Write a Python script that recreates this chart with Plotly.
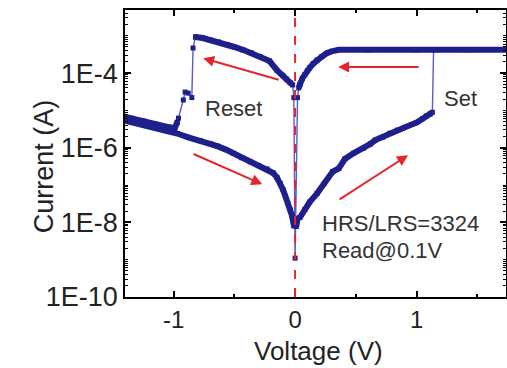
import plotly.graph_objects as go

# ---------------- data ----------------
# HRS, positive sweep 0 -> set
hrs_pos_v = [0.01, 0.02, 0.04, 0.08, 0.12, 0.18, 0.24, 0.31, 0.36, 0.41, 0.48, 0.56,
             0.62, 0.66, 0.72, 0.78, 0.84, 0.90, 0.96, 1.00, 1.05, 1.08, 1.11, 1.13]
hrs_pos_i = [7.9e-9, 1.26e-8, 1.35e-8, 2.2e-8, 3.5e-8, 5.9e-8, 1.1e-7, 2.3e-7, 2.8e-7, 5.0e-7,
             7.1e-7, 9.5e-7, 1.26e-6, 1.6e-6, 1.9e-6, 2.45e-6, 2.95e-6, 3.5e-6, 4.2e-6, 4.7e-6,
             6.0e-6, 7.1e-6, 7.9e-6, 8.9e-6]

# LRS, compliance and return to 0
lrs_pos_v = [1.14, 1.45, 1.80, 1.40, 1.00, 0.60, 0.36, 0.30, 0.26, 0.22, 0.18, 0.15,
             0.12, 0.10, 0.08, 0.06, 0.04, 0.03]
lrs_pos_i = [4.2e-4, 4.2e-4, 4.2e-4, 4.2e-4, 4.2e-4, 4.2e-4, 4.2e-4, 3.8e-4, 3.4e-4, 2.75e-4,
             2.24e-4, 1.8e-4, 1.38e-4, 1.15e-4, 9.1e-5, 7.2e-5, 5.0e-5, 4.0e-5]

# crossing through 0 V in LRS
lrs_zero_v = [0.02, 0.00, -0.01]
lrs_zero_i = [2.2e-5, 1.1e-9, 2.2e-5]

# LRS, negative sweep 0 -> reset
lrs_neg_v = [-0.02, -0.04, -0.07, -0.10, -0.15, -0.21, -0.29, -0.36, -0.43, -0.50,
             -0.56, -0.63, -0.70, -0.76, -0.82]
lrs_neg_i = [4.8e-5, 5.5e-5, 6.9e-5, 8.7e-5, 1.2e-4, 2.1e-4, 2.8e-4, 3.5e-4, 4.2e-4, 5.0e-4,
             5.8e-4, 6.8e-4, 7.8e-4, 8.7e-4, 9.3e-4]

# reset steps
reset_v = [-0.82, -0.84, -0.85, -0.88, -0.905, -0.92, -0.96, -0.97]
reset_i = [9.3e-4, 4.7e-4, 2.2e-5, 2.9e-5, 3.1e-5, 1.9e-5, 6.2e-6, 4.8e-6]

# HRS, negative sweep out to -1.45 V and back to 0
hrs_out_v = [-0.97, -0.99, -1.05, -1.15, -1.25, -1.35, -1.45]
hrs_out_i = [4.8e-6, 3.4e-6, 3.6e-6, 4.3e-6, 5.2e-6, 6.2e-6, 7.3e-6]
hrs_back_v = [-1.45, -1.35, -1.25, -1.15, -1.05, -0.97, -0.88, -0.78, -0.70, -0.64, -0.57,
              -0.51, -0.44, -0.37, -0.30, -0.23, -0.18, -0.15, -0.12, -0.10, -0.08, -0.06,
              -0.04, -0.025, -0.01]
hrs_back_i = [5.8e-6, 4.9e-6, 4.1e-6, 3.4e-6, 2.8e-6, 2.4e-6, 1.9e-6, 1.55e-6, 1.3e-6, 1.1e-6,
              8.9e-7, 7.1e-7, 5.4e-7, 4.2e-7, 3.3e-7, 2.7e-7, 2.1e-7, 1.6e-7, 1.07e-7, 7.6e-8,
              5.0e-8, 3.3e-8, 2.2e-8, 1.5e-8, 8.1e-9]

# crossing through 0 V in HRS
hrs_zero_v = [-0.01, 0.00, 0.01]
hrs_zero_i = [8.1e-9, 8.1e-9, 7.9e-9]

y_tick_vals = [1e-10, 1e-8, 1e-6, 1e-4]
y_tick_text = ["1E-10", "1E-8", "1E-6", "1E-4"]
x_tick_vals = [-1, 0, 1]
x_tick_text = ["-1", "0", "1"]

# ---------------- figure ----------------
NAVY = "#1e1e8c"
THIN = "#5a5ad2"
RED = "#e3262b"
FONT = "Liberation Sans, Arial, sans-serif"

loop_v = (hrs_pos_v + lrs_pos_v + lrs_zero_v + lrs_neg_v + reset_v
          + hrs_out_v + hrs_back_v + hrs_zero_v)
loop_i = (hrs_pos_i + lrs_pos_i + lrs_zero_i + lrs_neg_i + reset_i
          + hrs_out_i + hrs_back_i + hrs_zero_i)

fig = go.Figure()

# thin connecting line through the whole loop with markers
fig.add_trace(go.Scatter(
    x=loop_v, y=loop_i, mode="lines+markers",
    line=dict(color=THIN, width=1.4),
    marker=dict(symbol="square", size=5, color=NAVY),
    showlegend=False, hoverinfo="skip"))

# thick (dense-marker) segments
for vv, ii in [(hrs_pos_v, hrs_pos_i), (lrs_pos_v, lrs_pos_i), (lrs_neg_v, lrs_neg_i),
               (hrs_out_v, hrs_out_i), (hrs_back_v, hrs_back_i)]:
    fig.add_trace(go.Scatter(
        x=vv, y=ii, mode="lines",
        line=dict(color=NAVY, width=6),
        showlegend=False, hoverinfo="skip"))

# red dashed line at 0 V
fig.add_shape(type="line", xref="x", yref="paper", x0=0, x1=0, y0=0, y1=1,
              line=dict(color=RED, width=2, dash="dash"), layer="above")

# arrows (head, tail) in data coords (log10 for y)
arrows = [
    ((-0.757, -3.60), (-0.123, -4.19)),
    ((0.354, -3.84), (1.029, -3.84)),
    ((-0.27, -6.98), (-0.848, -6.15)),
    ((0.93, -6.20), (0.354, -7.41)),
]
for (hx, hy), (tx, ty) in arrows:
    fig.add_annotation(x=hx, y=hy, ax=tx, ay=ty, xref="x", yref="y", axref="x", ayref="y",
                       text="", showarrow=True, arrowhead=2, arrowsize=1.1,
                       arrowwidth=2, arrowcolor=RED)

txt_font = dict(family=FONT, size=22, color="#333333")
fig.add_annotation(x=-0.51, y=-4.94, text="Reset", showarrow=False, font=txt_font)
fig.add_annotation(x=1.358, y=-4.67, text="Set", showarrow=False, font=txt_font)
fig.add_annotation(x=0.206, y=-8.03, text="HRS/LRS=3324", showarrow=False,
                   xanchor="left", font=txt_font)
fig.add_annotation(x=0.206, y=-8.76, text="Read@0.1V", showarrow=False,
                   xanchor="left", font=txt_font)

# axis titles as annotations (paper coords relative to the plot area)
fig.add_annotation(x=-0.257, y=0.456, xref="paper", yref="paper", text="Current (A)",
                   showarrow=False, textangle=-90,
                   font=dict(family=FONT, size=27, color="#222222"))
fig.add_annotation(x=0.507, y=-0.188, xref="paper", yref="paper", text="Voltage (V)",
                   showarrow=False, yanchor="middle",
                   font=dict(family=FONT, size=26, color="#222222"))

minor_y = []
for e in range(-10, -2):
    for m in range(2, 10):
        minor_y.append(m * 10.0 ** e)

fig.update_layout(
    width=507, height=368,
    margin=dict(l=125, r=1, t=10, b=71),
    paper_bgcolor="white", plot_bgcolor="white",
    font=dict(family=FONT, color="#222222"),
    xaxis=dict(range=[-1.40, 1.736], tickvals=x_tick_vals, ticktext=x_tick_text,
               ticks="inside", ticklen=6, tickwidth=1.5, tickcolor="black",
               showline=True, linecolor="black", linewidth=1.5, mirror="ticks",
               showgrid=False, zeroline=False, automargin=False,
               tickfont=dict(family=FONT, size=24, color="#222222"),
               minor=dict(tickvals=[-0.5, 0.5, 1.5], ticks="inside", ticklen=3,
                          tickwidth=1.5, tickcolor="black", showgrid=False)),
    yaxis=dict(type="log", range=[-10, -2.31], tickvals=y_tick_vals, ticktext=y_tick_text,
               ticks="inside", ticklen=6, tickwidth=1.5, tickcolor="black",
               showline=True, linecolor="black", linewidth=1.5, mirror="ticks",
               showgrid=False, zeroline=False, automargin=False,
               tickfont=dict(family=FONT, size=27, color="#222222"),
               minor=dict(tickvals=minor_y + [1e-9, 1e-7, 1e-5, 1e-3], ticks="inside",
                          ticklen=3, tickwidth=1, tickcolor="black", showgrid=False)),
)

fig.write_html("out.html", config={"displayModeBar": False},
               post_script="document.body.style.margin='0';document.body.style.overflow='hidden';")
